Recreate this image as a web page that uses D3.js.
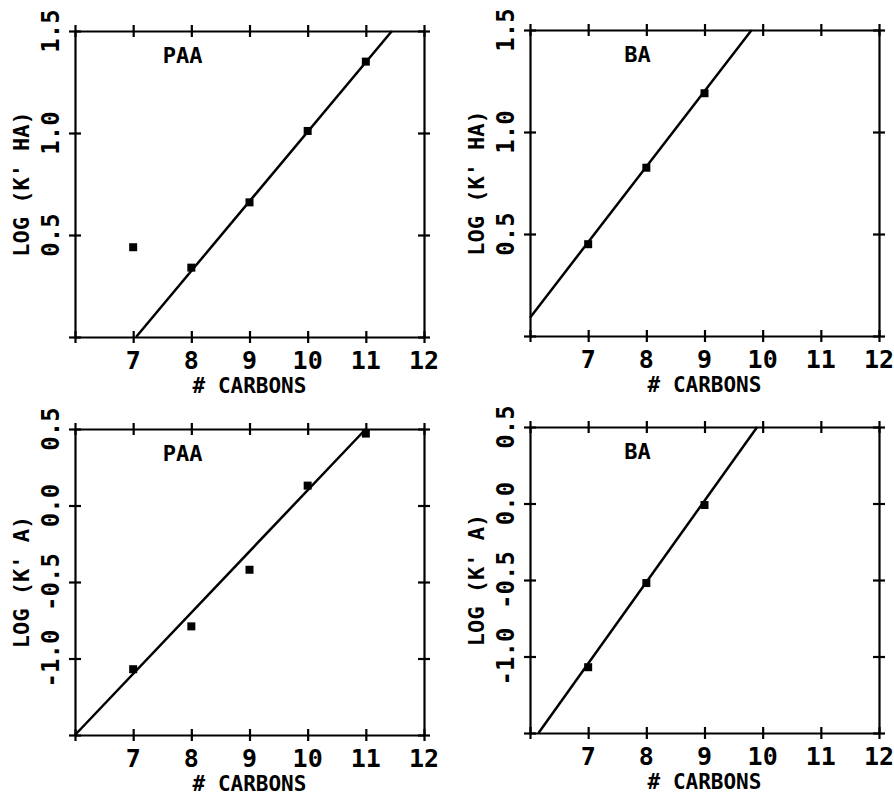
<!DOCTYPE html>
<html>
<head>
<meta charset="utf-8">
<script src="https://cdn.jsdelivr.net/npm/d3@7"></script>
<style>
  body { margin: 0; background: #fff; }
  svg text { font-family: "DejaVu Sans Mono", "Liberation Mono", monospace; fill: #000; }
</style>
</head>
<body>
<div id="chart"></div>
<script>
// number of carbons (x)
const carbonsPAA = [7, 8, 9, 10, 11];
const carbonsBA = [7, 8, 9];

// log k' values
const paaLogKHA = [0.44, 0.34, 0.66, 1.01, 1.35];
const baLogKHA = [0.45, 0.825, 1.19];
const paaLogKA = [-1.07, -0.79, -0.42, 0.13, 0.47];
const baLogKA = [-1.07, -0.52, -0.01];

// fitted lines: [slope, intercept]
const paaHAFit = [0.341, -2.404];
const baHAFit = [0.37, -2.13];
const paaAFit = [0.40, -3.9];
const baAFit = [0.532, -4.77];

// axes
const xDomain = [6, 12];
const xTicks = [6, 7, 8, 9, 10, 11, 12];
const xTickLabels = ["", "7", "8", "9", "10", "11", "12"];
const haDomain = [0, 1.5];
const haTicks = [0, 0.5, 1.0, 1.5];
const haTickLabels = ["", "0.5", "1.0", "1.5"];
const aDomain = [-1.5, 0.5];
const aTicks = [-1.5, -1.0, -0.5, 0.0, 0.5];
const aTickLabels = ["", "-1.0", "-0.5", "0.0", "0.5"];

const panels = [
    { left: 75, top: 31, xs: carbonsPAA, ys: paaLogKHA, fit: paaHAFit, name: "PAA",
      yDomain: haDomain, yTicks: haTicks, yLabels: haTickLabels, yTitle: "LOG (K' HA)" },
    { left: 530, top: 30, xs: carbonsBA, ys: baLogKHA, fit: baHAFit, name: "BA",
      yDomain: haDomain, yTicks: haTicks, yLabels: haTickLabels, yTitle: "LOG (K' HA)" },
    { left: 75, top: 429, xs: carbonsPAA, ys: paaLogKA, fit: paaAFit, name: "PAA",
      yDomain: aDomain, yTicks: aTicks, yLabels: aTickLabels, yTitle: "LOG (K' A)" },
    { left: 530, top: 427, xs: carbonsBA, ys: baLogKA, fit: baAFit, name: "BA",
      yDomain: aDomain, yTicks: aTicks, yLabels: aTickLabels, yTitle: "LOG (K' A)" }
];

const width = 894, height = 797;
const pw = 349, ph = 306;

const svg = d3.select("#chart").append("svg")
    .attr("width", width)
    .attr("height", height);

function drawPanel(p) {
    const g = svg.append("g").attr("transform", `translate(${p.left},${p.top})`);
    const x = d3.scaleLinear().domain(xDomain).range([0, pw]);
    const y = d3.scaleLinear().domain(p.yDomain).range([ph, 0]);

    // ticks cross the frame: draw full length then shift half back
    const tickLen = 12;
    const axes = [
        d3.axisBottom(x).tickValues(xTicks),
        d3.axisTop(x).tickValues(xTicks),
        d3.axisLeft(y).tickValues(p.yTicks),
        d3.axisRight(y).tickValues(p.yTicks)
    ];
    const pos = ["translate(0," + ph + ")", "translate(0,0)", "translate(0,0)", "translate(" + pw + ",0)"];
    const shift = [[0, -6], [0, 6], [6, 0], [-6, 0]];
    axes.forEach((ax, i) => {
        const a = g.append("g")
            .attr("transform", pos[i])
            .call(ax.tickSize(tickLen).tickSizeOuter(0).tickFormat(""));
        a.select(".domain").attr("stroke", "#000").attr("stroke-width", 2.2);
        a.selectAll(".tick line")
            .attr("stroke", "#000")
            .attr("stroke-width", 2.2)
            .attr("transform", `translate(${shift[i][0]},${shift[i][1]})`);
    });

    // x tick labels
    g.selectAll(".xlab").data(xTicks).join("text")
        .attr("x", d => x(d))
        .attr("y", ph + 32)
        .attr("text-anchor", "middle")
        .attr("font-size", 25)
        .attr("font-weight", "bold")
        .text((d, i) => xTickLabels[i]);

    // y tick labels, rotated
    g.selectAll(".ylab").data(p.yTicks).join("text")
        .attr("transform", d => `translate(-16,${y(d)}) rotate(-90)`)
        .attr("text-anchor", "middle")
        .attr("font-size", 24)
        .attr("font-weight", "bold")
        .text((d, i) => p.yLabels[i]);

    // axis titles
    g.append("text")
        .attr("x", pw / 2)
        .attr("y", ph + 56)
        .attr("text-anchor", "middle")
        .attr("font-size", 21)
        .attr("font-weight", "bold")
        .text("# CARBONS");
    g.append("text")
        .attr("transform", `translate(-46,${ph / 2}) rotate(-90)`)
        .attr("text-anchor", "middle")
        .attr("font-size", 22)
        .attr("font-weight", "bold")
        .text(p.yTitle);

    // compound label
    g.append("text")
        .attr("x", x(7.85))
        .attr("y", 32)
        .attr("text-anchor", "middle")
        .attr("font-size", 22)
        .attr("font-weight", "bold")
        .text(p.name);

    // fitted line, clipped to the frame
    const [m, b] = p.fit;
    const x0 = Math.max(xDomain[0], (p.yDomain[0] - b) / m);
    const x1 = Math.min(xDomain[1], (p.yDomain[1] - b) / m);
    const line = d3.line().x(d => x(d)).y(d => y(m * d + b));
    g.append("path")
        .datum([x0, x1])
        .attr("d", line)
        .attr("fill", "none")
        .attr("stroke", "#000")
        .attr("stroke-width", 2.5);

    // data points
    const s = 8;
    g.selectAll(".pt").data(p.xs).join("rect")
        .attr("x", d => x(d) - s / 2)
        .attr("y", (d, i) => y(p.ys[i]) - s / 2)
        .attr("width", s)
        .attr("height", s)
        .attr("fill", "#000");
}

panels.forEach(drawPanel);
</script>
</body>
</html>
